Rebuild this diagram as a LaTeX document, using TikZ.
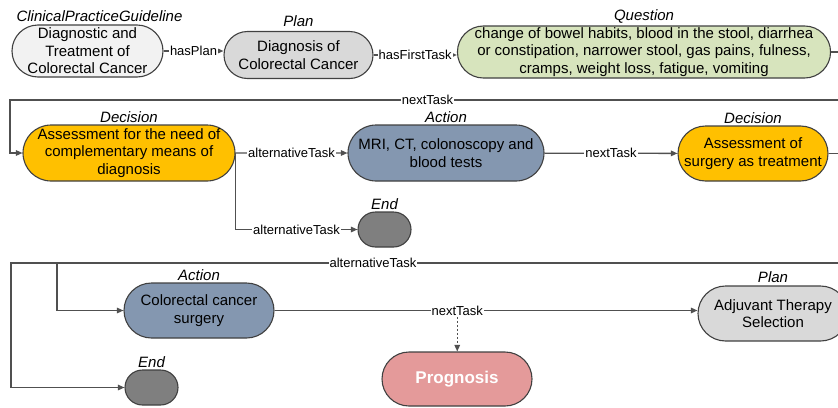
\documentclass[tikz,border=0pt]{standalone}
\usepackage{fontspec}
\setmainfont{Liberation Sans}
\usetikzlibrary{shapes.misc,arrows.meta}
\definecolor{cpgfill}{HTML}{F2F2F2}
\definecolor{planfill}{HTML}{D9D9D9}
\definecolor{questfill}{HTML}{D7E4BD}
\definecolor{decfill}{HTML}{FFC000}
\definecolor{actfill}{HTML}{8497B0}
\definecolor{endfill}{HTML}{7F7F7F}
\definecolor{progfill}{HTML}{E49A9A}
\definecolor{bordergray}{HTML}{404040}
\definecolor{linkgray}{HTML}{505050}

\begin{document}
\begin{tikzpicture}[x=1pt,y=-1pt,
  task/.style={rounded rectangle,draw=bordergray,line width=1.1pt,inner sep=0pt,
    align=center,font=\fontsize{15}{17.5}\selectfont},
  kind/.style={font=\fontsize{15}{17.5}\selectfont\itshape,inner sep=2pt},
  plain/.style={draw=linkgray,line width=1.3pt},
  link/.style={plain,-{Triangle[length=6.5pt,width=5.5pt]}},
  lbl/.style={fill=white,inner sep=1pt,font=\fontsize{13}{15}\selectfont}]
  \useasboundingbox (0,0) rectangle (838,407);
  \clip (0,0) rectangle (838,407);
  \node[task,fill=cpgfill,minimum width=151pt,minimum height=52pt,label={[kind,xshift=12pt,yshift=1pt]above:ClinicalPracticeGuideline}] (cpg) at (87.5,51) {Diagnostic and\\Treatment of\\Colorectal Cancer};
  \node[task,fill=planfill,minimum width=149pt,minimum height=47pt,label={[kind,yshift=2pt]above:Plan}] (plan1) at (298.5,55) {Diagnosis of\\Colorectal Cancer};
  \node[task,fill=questfill,minimum width=358pt,minimum height=52pt,label={[kind]above:Question}] (quest) at (644,52) {change of bowel habits, blood in the stool, diarrhea\\or constipation, narrower stool, gas pains, fulness,\\cramps, weight loss, fatigue, vomiting};
  \node[task,fill=decfill,minimum width=212pt,minimum height=56pt,label={[kind]above:Decision}] (dec1) at (129,153) {Assessment for the need of\\complementary means of\\diagnosis};
  \node[task,fill=actfill,minimum width=196pt,minimum height=56pt,label={[kind]above:Action}] (act1) at (446,153) {MRI, CT, colonoscopy and\\blood tests};
  \node[task,fill=decfill,minimum width=150pt,minimum height=55pt,label={[kind]above:Decision}] (dec2) at (753,153.5) {Assessment of\\surgery as treatment};
  \node[task,fill=endfill,minimum width=53pt,minimum height=35pt,label={[kind]above:End}] (end1) at (384.5,229.5) {};
  \node[task,fill=actfill,minimum width=150pt,minimum height=55pt,label={[kind]above:Action}] (surg) at (199,310.5) {Colorectal cancer\\surgery};
  \node[task,fill=endfill,minimum width=53pt,minimum height=35pt,label={[kind]above:End}] (end2) at (151.5,387.5) {};
  \node[task,fill=progfill,minimum width=150pt,minimum height=54pt,text=white,font=\fontsize{17}{20}\selectfont\bfseries] (prog) at (457,379) {Prognosis};
  \node[task,fill=planfill,minimum width=150pt,minimum height=55pt,label={[kind,yshift=1pt]above:Plan}] (adj) at (773,313.5) {Adjuvant Therapy\\Selection};
  \coordinate (qout) at (845,52);
  \coordinate (nin) at (845,100);
  \coordinate (nlft) at (10,100);
  \coordinate (dout) at (845,153.5);
  \coordinate (ain) at (845,263);
  \coordinate (alft) at (11,263);
  \coordinate (abr) at (57,263);
  \draw[link] (cpg.east) -- node[lbl]{hasPlan} (cpg.east -| plan1.west);
  \draw[link] (plan1.east) -- node[lbl]{hasFirstTask} (plan1.east -| quest.west);
  \draw[plain] (quest.east) -- (qout);
  \draw[link] (nin) -- node[lbl]{nextTask} (nlft) |- (dec1.west);
  \draw[link] (dec1) -- node[lbl]{alternativeTask} (act1);
  \draw[link] (act1) -- node[lbl]{nextTask} (dec2);
  \draw[plain] (dec2.east) -- (dout);
  \draw[link] (dec1.east) |- node[lbl,pos=0.75]{alternativeTask} (end1.west);
  \draw[link] (ain) -- node[lbl,pos=0.566]{alternativeTask} (alft) |- (end2.west);
  \draw[link] (abr) |- (surg.west);
  \draw[link] (surg.east) -- node[lbl,pos=0.432] (ntask) {nextTask} (surg.east -| adj.west);
  \draw[link,dash pattern=on 2pt off 2pt] (ntask) -- (ntask |- prog.north);
\end{tikzpicture}
\end{document}
